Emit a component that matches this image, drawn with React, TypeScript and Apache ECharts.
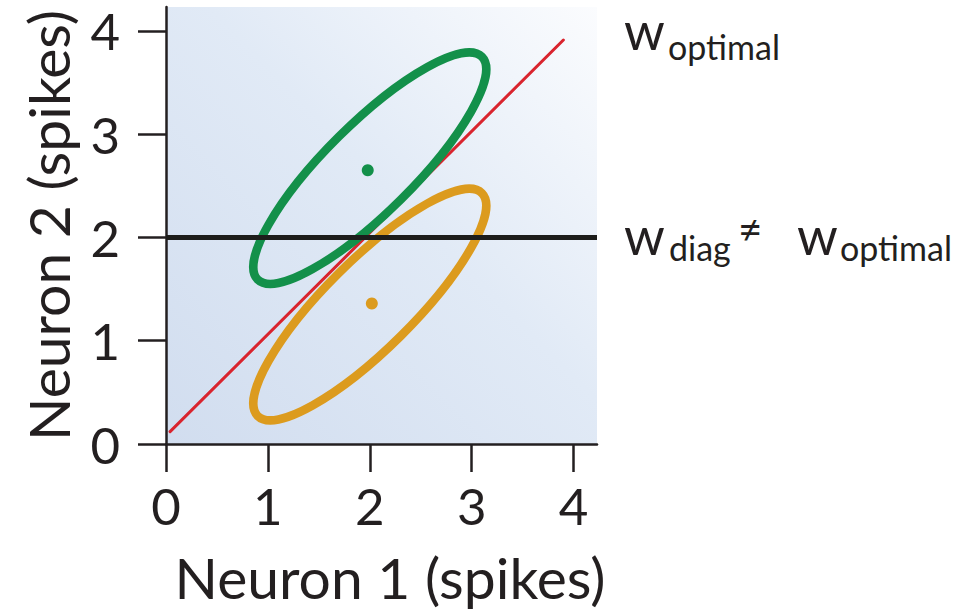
import React, { useEffect, useRef } from "react";
import * as echarts from "echarts";

// Axis ticks (spike counts) for both neurons
const xTickValues = [0, 1, 2, 3, 4];
const yTickValues = [0, 1, 2, 3, 4];
const axisMax = 4.23;

// Optimal decoding boundary (red diagonal) endpoints: [neuron1, neuron2]
const optimalBoundary = [
  [0.04, 0.12],
  [3.9, 3.91],
];

// Diagonal-only decoder threshold on neuron 2 (black horizontal line)
const diagThreshold = 2;

// Response distributions for the two stimuli: [cx, cy, semiMajor, semiMinor, angleDeg]
const stimulusAEllipse = [2.0, 2.67, 1.54, 0.43, 44.4];
const stimulusBEllipse = [2.0, 1.35, 1.54, 0.43, 44.4];

// Mean responses for each stimulus
const stimulusAMean = [1.98, 2.65];
const stimulusBMean = [2.02, 1.36];

const GREEN = "#13904a";
const ORANGE = "#dc9b1e";
const RED = "#d9242e";
const INK = "#231f20";
const FONT = "Lato, 'Open Sans', sans-serif";
const WEIGHT = 400;

export default function App() {
  const ref = useRef<HTMLDivElement>(null);

  useEffect(() => {
    if (!ref.current) return;
    const chart = echarts.init(ref.current, undefined, { renderer: "svg" });

    const ellipseColors = [GREEN, ORANGE];

    const bigW = (left: number, top: number) => ({
      type: "text",
      left,
      top,
      silent: true,
      style: { text: "w", font: `${WEIGHT} 52px ${FONT}`, fill: INK, lineHeight: 40 },
    });
    const sub = (text: string, left: number, top: number) => ({
      type: "text",
      left,
      top,
      silent: true,
      style: { text, font: `${WEIGHT} 34px ${FONT}`, fill: INK },
    });

    const option: any = {
      animation: false,
      grid: {
        left: 166,
        right: 379,
        top: 7,
        bottom: 170,
        show: true,
        borderWidth: 0,
        backgroundColor: new echarts.graphic.LinearGradient(0, 1, 1, 0, [
          { offset: 0, color: "#d1ddef" },
          { offset: 0.55, color: "#e1eaf6" },
          { offset: 1, color: "#fbfcfe" },
        ]),
      },
      xAxis: {
        type: "value",
        min: 0,
        max: axisMax,
        interval: 1,
        name: "Neuron 1 (spikes)",
        nameLocation: "middle",
        nameGap: 104,
        nameTextStyle: {
          fontFamily: FONT,
          fontWeight: WEIGHT,
          fontSize: 57,
          color: INK,
          padding: [0, 0, 0, 17],
        },
        splitLine: { show: false },
        axisLine: { show: true, lineStyle: { color: INK, width: 2.5 } },
        axisTick: {
          show: true,
          length: 28,
          customValues: xTickValues,
          lineStyle: { color: INK, width: 2.5 },
        },
        axisLabel: {
          customValues: xTickValues,
          margin: 36,
          fontFamily: FONT,
          fontWeight: WEIGHT,
          fontSize: 51,
          color: INK,
        },
      },
      yAxis: {
        type: "value",
        min: 0,
        max: axisMax,
        interval: 1,
        name: "Neuron 2 (spikes)",
        nameLocation: "middle",
        nameGap: 90,
        nameTextStyle: {
          fontFamily: FONT,
          fontWeight: WEIGHT,
          fontSize: 57,
          color: INK,
        },
        splitLine: { show: false },
        axisLine: { show: true, lineStyle: { color: INK, width: 2.5 } },
        axisTick: {
          show: true,
          length: 28,
          customValues: yTickValues,
          lineStyle: { color: INK, width: 2.5 },
        },
        axisLabel: {
          customValues: yTickValues,
          margin: 46,
          fontFamily: FONT,
          fontWeight: WEIGHT,
          fontSize: 51,
          color: INK,
        },
      },
      series: [
        {
          name: "optimal boundary",
          type: "line",
          data: optimalBoundary,
          showSymbol: false,
          symbol: "none",
          z: 2,
          lineStyle: { color: RED, width: 3, cap: "round" },
          silent: true,
        },
        {
          name: "response distributions",
          type: "custom",
          z: 3,
          silent: true,
          encode: { x: 0, y: 1 },
          data: [stimulusAEllipse, stimulusBEllipse],
          renderItem: (params: any, api: any) => {
            const cx = api.value(0);
            const cy = api.value(1);
            const a = api.value(2);
            const b = api.value(3);
            const th = (api.value(4) * Math.PI) / 180;
            const c = api.coord([cx, cy]);
            const pMajor = api.coord([cx + a * Math.cos(th), cy + a * Math.sin(th)]);
            const pMinor = api.coord([cx - b * Math.sin(th), cy + b * Math.cos(th)]);
            const rx = Math.hypot(pMajor[0] - c[0], pMajor[1] - c[1]);
            const ry = Math.hypot(pMinor[0] - c[0], pMinor[1] - c[1]);
            const rotation = Math.atan2(c[1] - pMajor[1], pMajor[0] - c[0]);
            return {
              type: "ellipse",
              x: c[0],
              y: c[1],
              rotation,
              shape: { cx: 0, cy: 0, rx, ry },
              style: {
                fill: "none",
                stroke: ellipseColors[params.dataIndex],
                lineWidth: 8.5,
              },
            };
          },
        },
        {
          name: "means",
          type: "scatter",
          z: 4,
          silent: true,
          symbolSize: 12,
          itemStyle: { opacity: 1 },
          data: [
            { value: stimulusAMean, itemStyle: { color: GREEN, opacity: 1 } },
            { value: stimulusBMean, itemStyle: { color: ORANGE, opacity: 1 } },
          ],
        },
        {
          name: "diagonal threshold",
          type: "line",
          z: 5,
          data: [],
          markLine: {
            silent: true,
            symbol: "none",
            label: { show: false },
            lineStyle: { color: "#1d1d1b", width: 5, type: "solid" },
            data: [{ yAxis: diagThreshold }],
          },
        },
      ],
      graphic: [
        bigW(624, 4),
        sub("optimal", 668, 29),
        bigW(624, 209),
        sub("diag", 669, 230),
        {
          type: "text",
          left: 738,
          top: 207,
          silent: true,
          style: { text: "≠", font: `${WEIGHT} 42px ${FONT}`, fill: INK },
        },
        bigW(797, 209),
        sub("optimal", 840, 230),
      ],
    };

    chart.setOption(option);
    return () => chart.dispose();
  }, []);

  return (
    <div
      ref={ref}
      style={{ position: "fixed", left: 0, top: 0, width: 976, height: 614, background: "#ffffff" }}
    />
  );
}
